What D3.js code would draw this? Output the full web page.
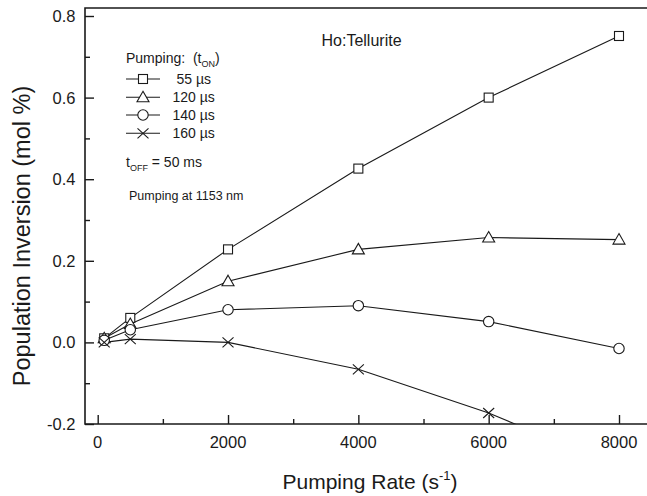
<!DOCTYPE html>
<html>
<head>
<meta charset="utf-8">
<script src="https://cdn.jsdelivr.net/npm/d3@7"></script>
<style>
    html, body { margin: 0; background: #fff; overflow: hidden; }
    svg { display: block; }
    text { font-family: "Liberation Sans", Arial, sans-serif; fill: #1a1a1a; white-space: pre; }
</style>
</head>
<body>
<div id="chart-area"></div>
<script>

// Data
var pumpRates = [100, 500, 2000, 4000, 6000, 8000];
var tOn55 = [0.010, 0.060, 0.228, 0.426, 0.600, 0.751];
var tOn120 = [0.010, 0.045, 0.150, 0.228, 0.257, 0.252];
var tOn140 = [0.005, 0.031, 0.080, 0.090, 0.051, -0.015];
var tOn160 = [0.000, 0.008, 0.000, -0.066, -0.173, -0.307];

var seriesLabels = ["55 \u00b5s", "120 \u00b5s", "140 \u00b5s", "160 \u00b5s"];
var seriesSymbols = ["square", "triangle", "circle", "cross"];
var xTicks = [0, 2000, 4000, 6000, 8000];
var yTicks = [-0.2, 0.0, 0.2, 0.4, 0.6, 0.8];

PumpChart = function(_parentElement) {
    this.parentElement = _parentElement;
    this.series = [tOn55, tOn120, tOn140, tOn160].map(function(vals, i) {
        return {
            label: seriesLabels[i],
            symbol: seriesSymbols[i],
            values: vals.map(function(v, j) { return { x: pumpRates[j], y: v }; })
        };
    });
    this.initVis();
};

PumpChart.prototype.initVis = function() {
    var vis = this;

    vis.width = 647;
    vis.height = 496;
    // plot frame (the right edge is cut off by the picture)
    vis.frame = { left: 85, top: 8, right: 647, bottom: 424 };

    vis.svg = d3.select("#" + vis.parentElement).append("svg")
        .attr("width", vis.width)
        .attr("height", vis.height);

    vis.x = d3.scaleLinear().domain([0, 8000]).range([97.7, 619]);
    vis.y = d3.scaleLinear().domain([-0.2, 0.8]).range([424, 16]);

    vis.svg.append("clipPath").attr("id", "plot-clip")
        .append("rect")
        .attr("x", vis.frame.left)
        .attr("y", vis.frame.top)
        .attr("width", vis.frame.right - vis.frame.left)
        .attr("height", vis.frame.bottom - vis.frame.top);

    // frame: top, left, bottom
    var f = vis.frame;
    vis.svg.append("path")
        .attr("d", "M" + f.right + "," + f.top + "H" + f.left + "V" + f.bottom + "H" + f.right)
        .attr("fill", "none")
        .attr("stroke", "#1a1a1a")
        .attr("stroke-width", 1.6);

    // x axis, ticks pointing inward
    var xAxis = d3.axisTop(vis.x).tickValues(xTicks).tickSize(9).tickFormat("");
    var xMinor = d3.axisTop(vis.x).tickValues([1000, 3000, 5000, 7000]).tickSize(5).tickFormat("");
    [xAxis, xMinor].forEach(function(ax) {
        var g = vis.svg.append("g")
            .attr("transform", "translate(0," + vis.frame.bottom + ")")
            .call(ax);
        g.select(".domain").remove();
        g.selectAll("line").attr("stroke", "#1a1a1a").attr("stroke-width", 1.4);
    });
    vis.svg.selectAll(".x-label")
        .data(xTicks)
        .enter().append("text")
        .attr("class", "x-label")
        .attr("x", function(d) { return vis.x(d); })
        .attr("y", 447.5)
        .attr("text-anchor", "middle")
        .style("font-size", "16.5px")
        .text(function(d) { return d; });

    // y axis, ticks pointing inward
    var yAxis = d3.axisRight(vis.y).tickValues(yTicks).tickSize(9).tickFormat("");
    var yMinor = d3.axisRight(vis.y).tickValues([-0.1, 0.1, 0.3, 0.5, 0.7]).tickSize(5).tickFormat("");
    [yAxis, yMinor].forEach(function(ax) {
        var g = vis.svg.append("g")
            .attr("transform", "translate(" + vis.frame.left + ",0)")
            .call(ax);
        g.select(".domain").remove();
        g.selectAll("line").attr("stroke", "#1a1a1a").attr("stroke-width", 1.4);
    });
    vis.svg.selectAll(".y-label")
        .data(yTicks)
        .enter().append("text")
        .attr("class", "y-label")
        .attr("x", 75.5)
        .attr("y", function(d) { return vis.y(d) + 6; })
        .attr("text-anchor", "end")
        .style("font-size", "16.5px")
        .text(function(d) { return d3.format(".1f")(d).replace("\u2212", "-"); });

    // axis titles
    var xt = vis.svg.append("text")
        .attr("x", 370)
        .attr("y", 489)
        .attr("text-anchor", "middle")
        .style("font-size", "21px");
    xt.append("tspan").text("Pumping Rate (s");
    xt.append("tspan").attr("dy", -9).style("font-size", "13px").text("-1");
    xt.append("tspan").attr("dy", 9).text(")");

    vis.svg.append("text")
        .attr("transform", "translate(30,236) rotate(-90)")
        .attr("text-anchor", "middle")
        .style("font-size", "23.5px")
        .text("Population Inversion (mol %)");

    vis.line = d3.line()
        .x(function(d) { return vis.x(d.x); })
        .y(function(d) { return vis.y(d.y); });

    vis.plot = vis.svg.append("g").attr("clip-path", "url(#plot-clip)");

    vis.drawLegend();
    vis.updateVis();
};

PumpChart.prototype.marker = function(sel, symbol) {
    if (symbol === "square") {
        sel.append("rect").attr("x", -4.5).attr("y", -4.5).attr("width", 9).attr("height", 9);
    } else if (symbol === "triangle") {
        sel.append("path").attr("d", "M0,-6L6,4.5L-6,4.5Z");
    } else if (symbol === "circle") {
        sel.append("circle").attr("r", 5.2);
    } else {
        sel.append("path").attr("d", "M-5.5,-5L5.5,5M-5.5,5L5.5,-5");
    }
    sel.selectAll("*")
        .attr("fill", symbol === "cross" ? "none" : "#fff")
        .attr("stroke", "#1a1a1a")
        .attr("stroke-width", 1.1);
};

PumpChart.prototype.updateVis = function() {
    var vis = this;

    vis.plot.selectAll(".series-line")
        .data(vis.series)
        .enter().append("path")
        .attr("class", "series-line")
        .attr("d", function(d) { return vis.line(d.values); })
        .attr("fill", "none")
        .attr("stroke", "#1a1a1a")
        .attr("stroke-width", 1.1);

    vis.series.forEach(function(s) {
        vis.plot.selectAll(".pt-" + s.symbol)
            .data(s.values)
            .enter().append("g")
            .attr("class", "pt-" + s.symbol)
            .attr("transform", function(d) {
                return "translate(" + vis.x(d.x) + "," + vis.y(d.y) + ")";
            })
            .each(function() { vis.marker(d3.select(this), s.symbol); });
    });
};

PumpChart.prototype.drawLegend = function() {
    var vis = this;

    vis.svg.append("text")
        .attr("x", 321.5)
        .attr("y", 46)
        .style("font-size", "16px")
        .text("Ho:Tellurite");

    var head = vis.svg.append("text")
        .attr("x", 126)
        .attr("y", 63)
        .style("font-size", "14px");
    head.append("tspan").text("Pumping:  (t");
    head.append("tspan").attr("dy", 4).style("font-size", "9px").text("ON");
    head.append("tspan").attr("dy", -4).text(")");

    var rowY = [79, 97.3, 115, 133.3];
    var textX = [176.5, 172.5, 172.5, 172.5];
    var legend = vis.svg.append("g").attr("class", "legend");
    vis.series.forEach(function(s, i) {
        legend.append("line")
            .attr("x1", 126).attr("x2", 160)
            .attr("y1", rowY[i]).attr("y2", rowY[i])
            .attr("stroke", "#1a1a1a")
            .attr("stroke-width", 1.1);
        var m = legend.append("g").attr("transform", "translate(143," + rowY[i] + ")");
        vis.marker(m, s.symbol);
        legend.append("text")
            .attr("x", textX[i])
            .attr("y", rowY[i] + 5)
            .style("font-size", "14px")
            .text(s.label);
    });

    var off = vis.svg.append("text")
        .attr("x", 126)
        .attr("y", 167)
        .style("font-size", "14px");
    off.append("tspan").text("t");
    off.append("tspan").attr("dy", 4).style("font-size", "9px").text("OFF");
    off.append("tspan").attr("dy", -4).text(" = 50 ms");

    vis.svg.append("text")
        .attr("x", 129)
        .attr("y", 200)
        .style("font-size", "12.5px")
        .text("Pumping at 1153 nm");
};

new PumpChart("chart-area");

</script>
</body>
</html>
